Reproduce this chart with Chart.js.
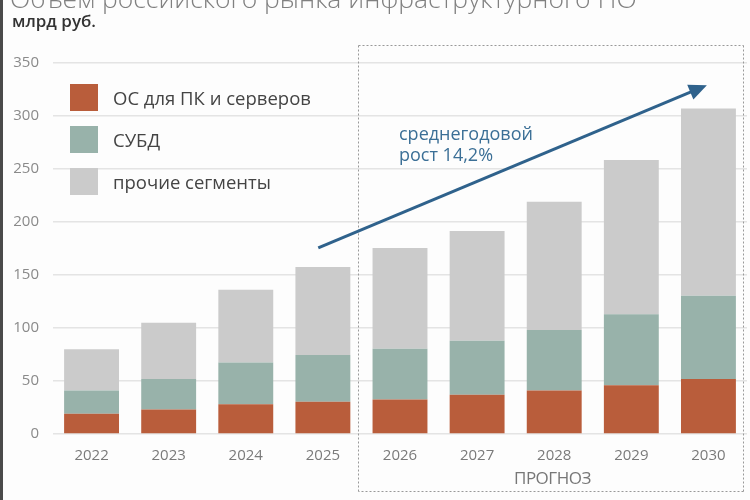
<!DOCTYPE html>
<html>
<head>
<meta charset="utf-8">
<script src="https://cdn.jsdelivr.net/npm/chart.js@4.4.1/dist/chart.umd.min.js"></script>
<style>
  html, body { margin:0; padding:0; background:#fdfdfd; }
  #wrap { position:relative; width:750px; height:500px; overflow:hidden; background:#fdfdfd; font-family:"Open Sans", sans-serif; }
  #wrap::before { content:""; position:absolute; left:0; top:0; width:3px; height:500px; background:#4a4a4a; z-index:5; }
  canvas { position:absolute; left:0; top:0; }
  .title { position:absolute; left:10px; top:-20px; font-size:26.5px; color:#808080; white-space:nowrap; font-weight:300; }
  .unit { position:absolute; left:12px; top:9px; font-size:17px; color:#333; font-weight:600; }
  .legend { position:absolute; left:70px; top:83px; }
  .li { height:28px; margin-bottom:14px; display:flex; align-items:center; }
  .sw { width:28px; height:27px; margin-right:15px; }
  .lt { font-size:18.5px; color:#444; }
  .note { position:absolute; left:399px; top:123px; font-size:18px; line-height:21px; color:#3b6f96; }
  .fc { position:absolute; left:514px; top:466px; font-size:17px; color:#777; letter-spacing:-0.5px; }
</style>
</head>
<body>
<div id="wrap">
  <canvas id="c" width="750" height="500"></canvas>
  <div class="title">Объем российского рынка инфраструктурного ПО</div>
  <div class="unit">млрд руб.</div>
  <div class="legend" id="legend"></div>
  <div class="note">среднегодовой<br>рост 14,2%</div>
  <div class="fc">ПРОГНОЗ</div>
</div>
<script>
const years = ["2022","2023","2024","2025","2026","2027","2028","2029","2030"];
const seriesNames = ["ОС для ПК и серверов", "СУБД", "прочие сегменты"];
const osValues    = [19, 23, 28, 30.5, 32.5, 37, 41, 46, 52];
const dbmsValues  = [22, 29, 39.5, 44, 48, 51, 57, 67, 78.5];
const otherValues = [39, 53, 68.5, 83, 95, 103.5, 121, 145.5, 176.5];
const yTicks = [0, 50, 100, 150, 200, 250, 300, 350];
const forecastStart = 4;            // index of first forecast year
const arrowFrom = {x: 2.94, y: 175.5};
const arrowTo   = {x: 7.98, y: 329};

const colors = ["#b95d3b", "#98b2aa", "#cbcbcb"];

// HTML legend
const lg = document.getElementById('legend');
seriesNames.forEach((n,i)=>{
  const d = document.createElement('div'); d.className='li';
  d.innerHTML = '<div class="sw" style="background:'+colors[i]+'"></div><div class="lt">'+n+'</div>';
  lg.appendChild(d);
});

const overlay = {
  id:'overlay',
  afterDraw(chart){
    const {ctx, scales:{x,y}, chartArea} = chart;
    // forecast dashed box
    const left = Math.round((x.getPixelForValue(forecastStart-1) + x.getPixelForValue(forecastStart))/2 - 3) + 0.5;
    const right = Math.round(chartArea.right - 4) + 0.5;
    const top = 45.5, bottom = 491.5;
    ctx.save();
    ctx.strokeStyle = '#999999';
    ctx.lineWidth = 1;
    ctx.setLineDash([2,2]);
    [[left,top,right,top],[right,top,right,bottom],[right,bottom,left,bottom],[left,bottom,left,top]].forEach(s=>{
      ctx.beginPath(); ctx.moveTo(s[0],s[1]); ctx.lineTo(s[2],s[3]); ctx.stroke();
    });
    ctx.restore();
    // arrow
    const x1 = x.getPixelForValue(arrowFrom.x), y1 = y.getPixelForValue(arrowFrom.y);
    const x2 = x.getPixelForValue(arrowTo.x), y2 = y.getPixelForValue(arrowTo.y);
    const ang = Math.atan2(y2-y1, x2-x1);
    const hl = 18, hw = 8;
    const bx = x2 - hl*Math.cos(ang), by = y2 - hl*Math.sin(ang);
    ctx.save();
    ctx.strokeStyle = '#2f628c'; ctx.fillStyle = '#2f628c';
    ctx.lineWidth = 3;
    ctx.beginPath(); ctx.moveTo(x1,y1); ctx.lineTo(bx+4*Math.cos(ang), by+4*Math.sin(ang)); ctx.stroke();
    ctx.beginPath();
    ctx.moveTo(x2,y2);
    ctx.lineTo(bx + hw*Math.sin(ang), by - hw*Math.cos(ang));
    ctx.lineTo(bx - hw*Math.sin(ang), by + hw*Math.cos(ang));
    ctx.closePath(); ctx.fill();
    ctx.restore();
  }
};

new Chart(document.getElementById('c'), {
  type:'bar',
  data:{
    labels: years,
    datasets:[
      {label:seriesNames[0], data:osValues, backgroundColor:colors[0]},
      {label:seriesNames[1], data:dbmsValues, backgroundColor:colors[1]},
      {label:seriesNames[2], data:otherValues, backgroundColor:colors[2]}
    ]
  },
  options:{
    responsive:false,
    animation:false,
    events:[],
    layout:{padding:{top:63, right:3, left:0, bottom:0}},
    datasets:{bar:{categoryPercentage:1, barPercentage:0.712, borderWidth:0}},
    plugins:{legend:{display:false}, tooltip:{enabled:false}},
    scales:{
      x:{
        stacked:true,
        grid:{display:false, drawTicks:false},
        border:{display:false},
        ticks:{color:'#7a7a7a', font:{family:'Open Sans', size:15}, padding:13},
        afterFit(s){ s.height = 66; }
      },
      y:{
        stacked:true,
        min:0, max:350,
        afterBuildTicks(s){ s.ticks = yTicks.map(v=>({value:v})); },
        grid:{color:'#e4e4e4', lineWidth:1.5, drawTicks:false},
        border:{display:false},
        ticks:{color:'#8a8a8a', font:{family:'Open Sans', size:15}, padding:14},
        afterFit(s){ s.width = 53; }
      }
    }
  },
  plugins:[overlay]
});
</script>
</body>
</html>
